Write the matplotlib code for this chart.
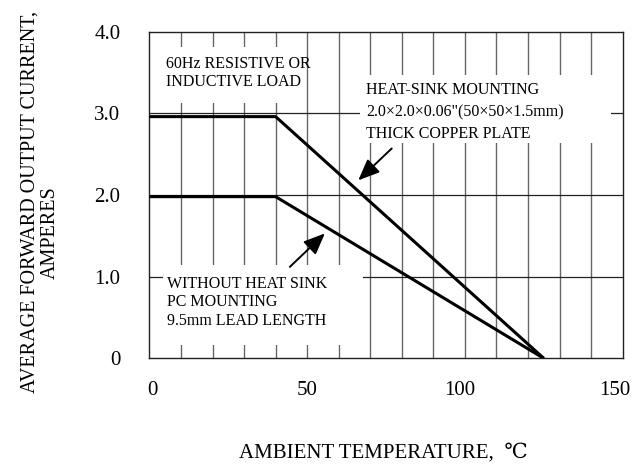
import matplotlib.pyplot as plt
from matplotlib.patches import Rectangle
from matplotlib.transforms import ScaledTranslation

# 降额曲线数据 (温度 -> 电流)
temp_heatsink = [0, 40, 125]
amp_heatsink = [2.96, 2.96, 0]
temp_noheatsink = [0, 40, 125]
amp_noheatsink = [1.98, 1.98, 0]

x_ticks = [0, 50, 100, 150]
x_ticklabels = ['0', '50', '100', '150']
y_ticks = [0, 1, 2, 3, 4]
y_ticklabels = ['0', '1.0', '2.0', '3.0', '4.0']

serif = ['Liberation Serif', 'DejaVu Serif']
plt.rcParams['font.family'] = serif

fig = plt.figure(figsize=(6.36, 4.66), dpi=100)
ax = fig.add_axes([0.235, 0.231, 0.744, 0.701])
ax.set_xlim(0, 150)
ax.set_ylim(0, 4)

# 网格: 竖线每10度, 横线每1A
for t in range(10, 150, 10):
    ax.axvline(t, color='#666666', lw=1.0, zorder=1)
for a in [1, 2, 3]:
    ax.axhline(a, color='#222222', lw=0.9, zorder=1)

# 文字背后的白底
for (x0, y0, w, h) in [(0.3, 3.13, 46.5, 0.68), (66.7, 2.64, 79.5, 0.83), (4.3, 0.16, 63.4, 0.98)]:
    ax.add_patch(Rectangle((x0, y0), w, h, facecolor='white', edgecolor='none', zorder=2))

ax.plot(temp_heatsink, amp_heatsink, color='black', lw=2.2, zorder=3, solid_capstyle='butt')
ax.plot(temp_noheatsink, amp_noheatsink, color='black', lw=2.2, zorder=3, solid_capstyle='butt')

ax.text(5.2, 3.495, '60Hz RESISTIVE OR\nINDUCTIVE LOAD', fontsize=11.5, va='center', ha='left',
        linespacing=1.2, zorder=4)
ax.text(68.6, 3.013, 'HEAT-SINK MOUNTING\n2.0×2.0×0.06"(50×50×1.5mm)\nTHICK COPPER PLATE',
        fontsize=11.5, va='center', ha='left', linespacing=1.5, zorder=4)
ax.text(5.6, 0.686, 'WITHOUT HEAT SINK\nPC MOUNTING\n9.5mm LEAD LENGTH', fontsize=11.5,
        va='center', ha='left', linespacing=1.2, zorder=4)

arrow = dict(arrowstyle='-|>,head_length=1.3,head_width=0.55', color='black', lw=1.4,
             shrinkA=0, shrinkB=0)
ax.annotate('', xy=(66.2, 2.18), xytext=(76.8, 2.57), arrowprops=arrow, zorder=4)
ax.annotate('', xy=(55.6, 1.53), xytext=(44.5, 1.12), arrowprops=arrow, zorder=4)

ax.set_xticks(x_ticks)
ax.set_xticklabels(x_ticklabels, fontsize=15)
ax.set_yticks(y_ticks)
ax.set_yticklabels(y_ticklabels, fontsize=15)
ax.tick_params(length=0)
ax.tick_params(axis='x', pad=16)
ax.tick_params(axis='y', pad=21)
# 原图的x刻度文字略向左偏
for lab, dx in zip(ax.get_xticklabels(), [3, -0.5, -5, -8]):
    lab.set_transform(lab.get_transform() + ScaledTranslation(dx / 100, 0, fig.dpi_scale_trans))
for s in ax.spines.values():
    s.set_linewidth(1.0)
    s.set_color('#222222')

fig.text(383 / 636, 1 - 453 / 466, 'AMBIENT TEMPERATURE,  ℃', fontsize=15, ha='center', va='center')
fig.text(30 / 636, 1 - 202 / 466, 'AVERAGE FORWARD OUTPUT CURRENT,', fontsize=14.5,
         rotation=90, ha='center', va='center')
fig.text(50.5 / 636, 1 - 233 / 466, 'AMPERES', fontsize=14.5, rotation=90, ha='center', va='center')

fig.savefig('out.png', dpi=100)
